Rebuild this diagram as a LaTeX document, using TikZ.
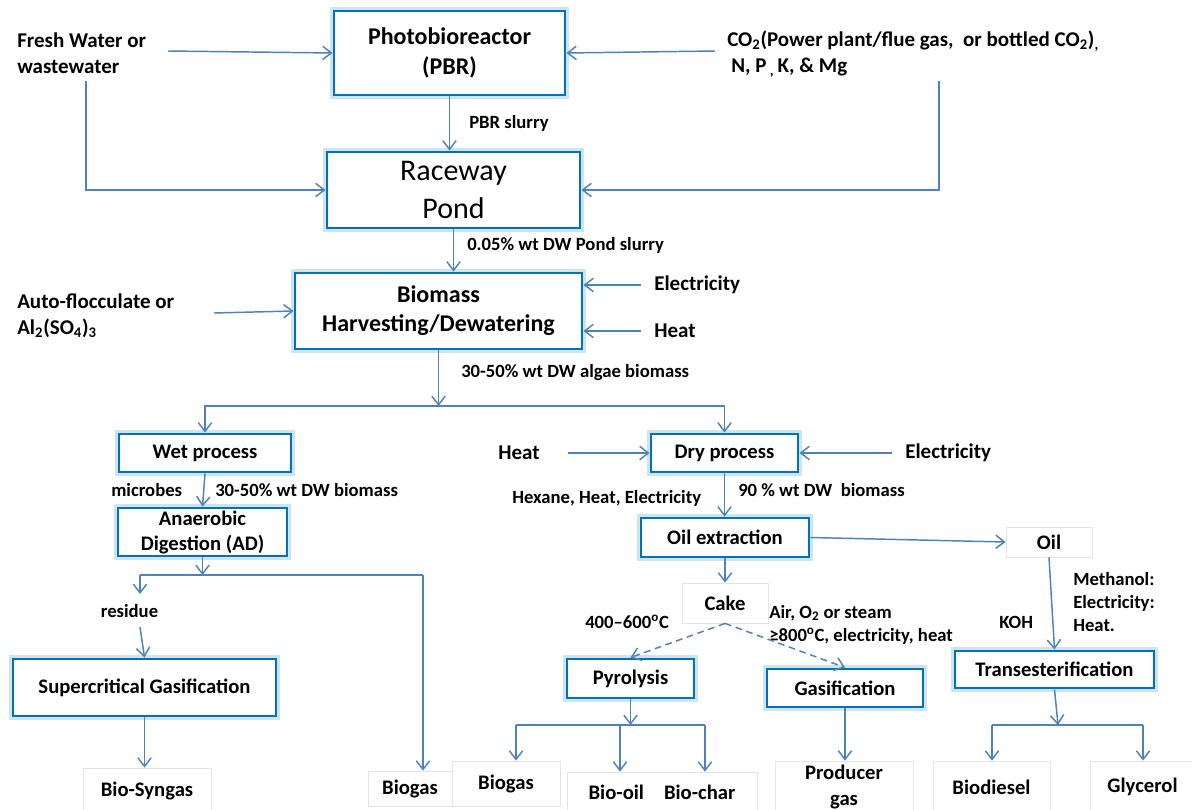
\documentclass[tikz,border=0pt]{standalone}
\usepackage{fontspec}
\setmainfont{Carlito}
\usetikzlibrary{arrows.meta}
\definecolor{boxblue}{RGB}{0,112,192}
\definecolor{glowc}{RGB}{205,230,238}
\definecolor{arrblue}{RGB}{79,129,189}
\definecolor{lgray}{RGB}{228,228,228}
\begin{document}
\begin{tikzpicture}[x=0.75pt,y=-0.75pt,
  mbox/.style={draw=boxblue, line width=2.2pt, fill=white, preaction={draw=glowc, line width=6pt},
    align=center, inner sep=0pt, font=\bfseries\fontsize{15.5}{18.75}\selectfont},
  lbox/.style={draw=lgray, line width=0.6pt, fill=white, align=center, inner sep=0pt,
    font=\bfseries\fontsize{15.5}{19.5}\selectfont},
  lab/.style={font=\bfseries\fontsize{14}{17.25}\selectfont, inner sep=0pt, anchor=west, align=left},
  inp/.style={font=\bfseries\fontsize{15.75}{19.5}\selectfont, inner sep=0pt, anchor=west, align=left},
  ln/.style={draw=arrblue, line width=1.1pt},
  arr/.style={ln, -{Straight Barb[length=6.5pt,width=10pt]}},
  darr/.style={arr, dash pattern=on 5pt off 3.5pt}
]
\path[use as bounding box, fill=white] (0,0) rectangle (1192,810);

% ---- main boxes
\node[mbox, minimum width=231*0.75pt, minimum height=84*0.75pt, font=\bfseries\fontsize{18}{22.5}\selectfont] (pbr) at (449.5,53) {Photobioreactor\\(PBR)};
\node[mbox, minimum width=253*0.75pt, minimum height=76*0.75pt, font=\fontsize{22.5}{28.5}\selectfont] (pond) at (453.5,190) {Raceway\\Pond};
\node[mbox, minimum width=287*0.75pt, minimum height=76*0.75pt, font=\bfseries\fontsize{18}{21.75}\selectfont] (bio) at (438.5,311) {Biomass\\Harvesting/Dewatering};
\node[mbox, minimum width=172*0.75pt, minimum height=38*0.75pt] (wet) at (205,453) {Wet process};
\node[mbox, minimum width=147*0.75pt, minimum height=38*0.75pt] (dry) at (724.5,453) {Dry process};
\node[mbox, minimum width=169*0.75pt, minimum height=48*0.75pt] (ad) at (202.5,532) {Anaerobic\\Digestion (AD)};
\node[mbox, minimum width=168*0.75pt, minimum height=39*0.75pt] (oilx) at (725,537.5) {Oil extraction};
\node[mbox, minimum width=263*0.75pt, minimum height=57*0.75pt] (scg) at (144.5,687.5) {Supercritical Gasification};
\node[mbox, minimum width=127*0.75pt, minimum height=39*0.75pt] (pyro) at (630.5,678.5) {Pyrolysis};
\node[mbox, minimum width=156*0.75pt, minimum height=38*0.75pt] (gas) at (845,688) {Gasification};
\node[mbox, minimum width=199*0.75pt, minimum height=37*0.75pt] (trans) at (1054.5,669.5) {Transesterification};

% ---- light boxes
\node[lbox, minimum width=86*0.75pt, minimum height=40*0.75pt] (cake) at (725,603) {Cake};
\node[lbox, minimum width=86*0.75pt, minimum height=30*0.75pt] (oil) at (1049,542) {Oil};
\node[lbox, minimum width=128*0.75pt, minimum height=45*0.75pt] (syn) at (147,790.5) {Bio-Syngas};
\node[lbox, minimum width=84*0.75pt, minimum height=35*0.75pt] (bg1) at (410,788.5) {Biogas};
\node[lbox, minimum width=108*0.75pt, minimum height=45*0.75pt] (bg2) at (506,783.5) {Biogas};
\node[lbox, minimum width=190*0.75pt, minimum height=41*0.75pt] (bob) at (662,792.5) {Bio-oil\hspace{15pt}Bio-char};
\node[lbox, minimum width=138*0.75pt, minimum height=52*0.75pt] (prod) at (844,787) {Producer\\gas};
\node[lbox, minimum width=117*0.75pt, minimum height=52*0.75pt] (bd) at (991.5,787) {Biodiesel};
\node[lbox, minimum width=105*0.75pt, minimum height=52*0.75pt] (gly) at (1142.5,787) {Glycerol};

% ---- input texts
\node[inp] (fw) at (17,53) {Fresh Water or\\wastewater};
\node[inp] (co2) at (727,54) {CO\textsubscript{2}(Power plant/flue gas,\ \ or bottled CO\textsubscript{2})\textsubscript{,}\\\hspace{3pt}N, P\textsubscript{\ ,}\,K, \& Mg};
\node[inp] (auf) at (17,316) {Auto-flocculate or\\Al\textsubscript{2}(SO\textsubscript{4})\textsubscript{3}};
\node[inp] (el1) at (654,285) {Electricity};
\node[inp] (ht1) at (654,331) {Heat};
\node[inp] (ht2) at (498,453) {Heat};
\node[inp] (el2) at (905,453) {Electricity};

% ---- labels
\node[lab] (l1) at (469,123) {PBR slurry};
\node[lab] (l2) at (467,245) {0.05\% wt DW Pond slurry};
\node[lab] (l3) at (461,373) {30-50\% wt DW algae biomass};
\node[lab] (l4) at (111,490) {microbes};
\node[lab] (l5) at (215,490) {30-50\% wt DW biomass};
\node[lab] (l6) at (738,490) {90 \% wt DW\ \ biomass};
\node[lab] (l7) at (512,498) {Hexane, Heat, Electricity};
\node[lab] (l8) at (585,622) {400--600\textsuperscript{o}C};
\node[lab] (l9) at (769,613) {Air, O\textsubscript{2} or steam};
\node[lab] (l10) at (769,636) {≥800\textsuperscript{o}C, electricity, heat};
\node[lab] (l11) at (999,622) {KOH};
\node[lab, anchor=north west] (l12) at (1073,572) {Methanol:\\Electricity:\\Heat.};
\node[lab, anchor=center] (res) at (129.5,611) {residue};

% ---- coordinates
\coordinate (fwA) at (168,51);
\coordinate (fwB) at (86,81);
\coordinate (coA) at (715,51);
\coordinate (coB) at (939,81);
\coordinate (aufA) at (214,313);
\coordinate (el1A) at (641,285);
\coordinate (ht1A) at (641,331);
\coordinate (ht2A) at (568,453);
\coordinate (el2A) at (892,453);
\coordinate (sp1) at (438.5,406);
\coordinate (sp2) at (202.5,575);
\coordinate (sp2L) at (140,575);
\coordinate (sp2R) at (423,575);
\coordinate (resA) at (140,594);
\coordinate (resB) at (140,627);
\coordinate (sp3) at (630.5,725);
\coordinate (sp3L) at (516,725);
\coordinate (sp3M) at (620,725);
\coordinate (sp3R) at (705,725);
\coordinate (sp4) at (1058,725);
\coordinate (sp4L) at (992,725);
\coordinate (sp4R) at (1143,725);

% ---- connectors
\draw[arr] (fwA) -- (pbr.west);
\draw[arr] (fwB) |- (pond.west);
\draw[arr] (coA) -- (pbr.east);
\draw[arr] (coB) |- (pond.east);
\draw[arr] (pbr.south) -- (pbr.south |- pond.north);
\draw[arr] (pond.south) -- (pond.south |- bio.north);
\draw[arr] (aufA) -- (bio.west);
\draw[arr] (el1A) -- (bio.east |- el1A);
\draw[arr] (ht1A) -- (bio.east |- ht1A);
\draw[arr] (bio.south) -- (sp1);
\draw[arr] (sp1) -| (wet.north);
\draw[arr] (sp1) -| (dry.north);
\draw[arr] (ht2A) -- (dry.west);
\draw[arr] (el2A) -- (dry.east);
\draw[arr] (wet.south) -- (ad.north);
\draw[arr] (ad.south) -- (sp2);
\draw[ln] (sp2L) -- (sp2R);
\draw[arr] (sp2L) -- (resA);
\draw[arr] (resB) -- (scg.north);
\draw[arr] (sp2R) -- (sp2R |- bg1.north);
\draw[arr] (scg.south) -- (scg.south |- syn.north);
\draw[arr] (dry.south) -- (dry.south |- oilx.north);
\draw[arr] (oilx.east) -- (oil.west);
\draw[arr] (oilx.south) -- (cake.north);
\draw[darr] (cake.south) -- (pyro.north);
\draw[darr] (cake.south) -- (gas.north);
\draw[arr] (pyro.south) -- (sp3);
\draw[ln] (sp3L) -- (sp3R);
\draw[arr] (sp3L) -- (sp3L |- bg2.north);
\draw[arr] (sp3M) -- (sp3M |- bob.north);
\draw[arr] (sp3R) -- (sp3R |- bob.north);
\draw[arr] (gas.south) -- (gas.south |- prod.north);
\draw[arr] (oil.south) -- (trans.north);
\draw[arr] (trans.south) -- (sp4);
\draw[ln] (sp4L) -- (sp4R);
\draw[arr] (sp4L) -- (sp4L |- bd.north);
\draw[arr] (sp4R) -- (sp4R |- gly.north);
\end{tikzpicture}
\end{document}
